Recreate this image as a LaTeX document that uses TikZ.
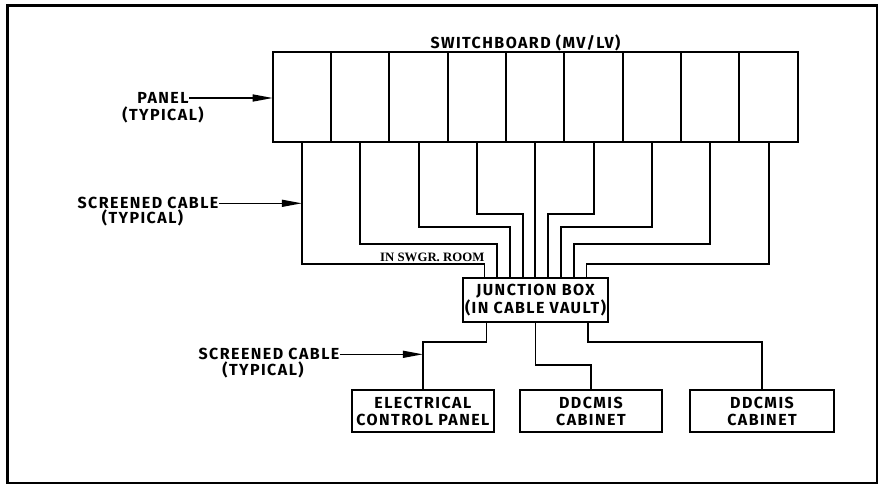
\documentclass[tikz,border=0pt]{standalone}
\usepackage{fontspec}
\setmainfont{Fira Sans}
\newfontfamily\roomfont{Liberation Serif}
\usetikzlibrary{arrows.meta,positioning}

\begin{document}
\begin{tikzpicture}[
  x=1pt, y=-1pt,
  lbl/.style={font=\bfseries\fontsize{16}{17}\selectfont\addfontfeature{LetterSpace=9}, inner sep=0.5pt, text height=11pt, text depth=0pt},
  panel/.style={draw, line width=1.9pt, outer sep=0pt, inner sep=0pt, minimum width=58.33pt, minimum height=89.7pt},
  box/.style={draw, line width=1.9pt, outer sep=0pt, inner sep=0pt, align=center, font=\bfseries\fontsize{16}{17}\selectfont\addfontfeature{LetterSpace=9}},
  cable/.style={line width=1.9pt},
  arr/.style={-{Triangle[length=20pt, width=7pt]}, line width=1.4pt},
  room/.style={fill=white, inner xsep=3pt, inner ysep=2pt, font=\roomfont\bfseries\fontsize{12.8}{13}\selectfont}
]
\useasboundingbox (0,0) rectangle (885,485);
\draw[line width=2.6pt] (7.5,5.5) rectangle (877,483);

% switchboard
\node[lbl] (title) at (525.5,43) {SWITCHBOARD (MV/LV)};
\node[panel] (p1) at (301.9,97.2) {};
\foreach \i [remember=\i as \last (initially 1)] in {2,...,9}
  \node[panel, right=0pt of p\last] (p\i) {};

% boxes
\node[box, minimum width=144.4pt, minimum height=43.4pt, font=\bfseries\fontsize{16}{18}\selectfont\addfontfeature{LetterSpace=9}] (jb) at (535.5,300) {JUNCTION BOX\\(IN CABLE VAULT)};
\node[box, minimum width=142.3pt, minimum height=42.3pt] (ecp) at (422.9,411.2) {ELECTRICAL\\CONTROL PANEL};
\node[box, minimum width=141.7pt, minimum height=42.3pt] (dd1) at (590.9,411.2) {DDCMIS\\CABINET};
\node[box, minimum width=144pt, minimum height=42.3pt] (dd2) at (762,411.2) {DDCMIS\\CABINET};

% cables to junction box
\foreach \i/\lv in {1/264.3,2/243.7,3/226.7,4/214,6/214,7/226.7,8/243.7,9/264.3}
  \draw[cable] (p\i.south) -- (p\i.south |- 0,\lv) -| ([xshift={(\i-5)*12.75pt}]jb.north);
\draw[cable] (p5.south) -- (p5.south |- jb.north);
\node[room, anchor=south west] (swgr) at (377,263.4) {IN SWGR. ROOM};

% cables from junction box
\draw[cable] ([xshift=-49pt]jb.south) -- ++(0,20.6) -| (ecp.north);
\draw[cable] (jb.south) -- ++(0,43.3) -| (dd1.north);
\draw[cable] ([xshift=52.5pt]jb.south) -- ++(0,20.6) -| (dd2.north);

% labels
\node[lbl] (lpanel) at (163,98) {PANEL};
\node[lbl] (lpaneltyp) at (163,114.5) {(TYPICAL)};
\draw[arr] (lpanel.east) -- (lpanel.east -| p1.west);

\node[lbl] (lcable) at (148,203.3) {SCREENED CABLE};
\node[lbl] (lcabletyp) at (142.5,218) {(TYPICAL)};
\draw[arr] (lcable.east) -- (lcable.east -| p1.south);

\node[lbl] (lvault) at (269,354.3) {SCREENED CABLE};
\node[lbl] (lvaulttyp) at (263,370) {(TYPICAL)};
\draw[arr] (lvault.east) -- (lvault.east -| ecp.north);
\end{tikzpicture}
\end{document}
